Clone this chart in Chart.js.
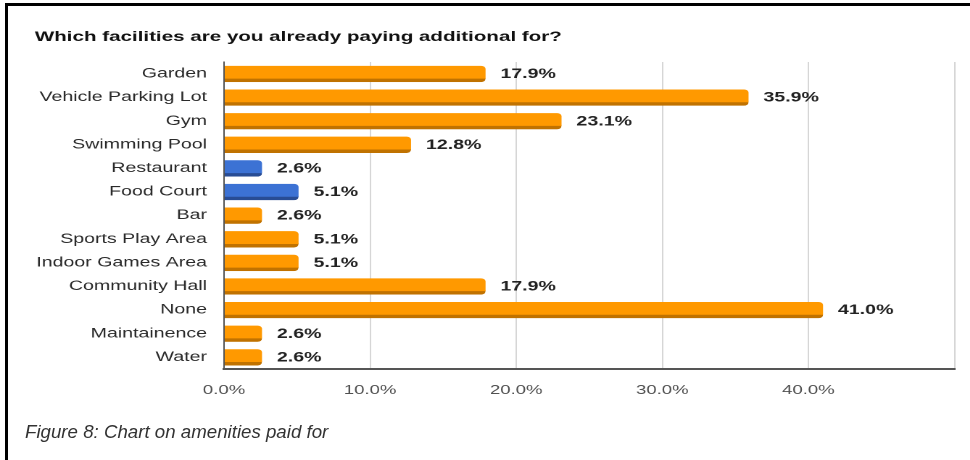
<!DOCTYPE html>
<html>
<head>
<meta charset="utf-8">
<script src="https://cdn.jsdelivr.net/npm/chart.js@4.4.1/dist/chart.umd.min.js"></script>
<style>
  html, body { margin: 0; padding: 0; background: #fff; }
  body { width: 970px; height: 460px; position: relative; overflow: hidden; }
  #frame {
    position: absolute; left: 5px; top: 3px; right: -10px; bottom: -10px;
    border-top: 3px solid #000; border-left: 3px solid #000;
  }
  /* the chart is laid out narrow and widened horizontally */
  #wrap {
    position: absolute; left: 0; top: 0; width: 669px; height: 460px;
    transform: scaleX(1.45); transform-origin: 0 0;
  }
  #caption {
    position: absolute; left: 25px; top: 421px; line-height: 24px;
    font: italic 18.7px "Liberation Sans", Arial, sans-serif; color: #333;
    white-space: nowrap;
  }
</style>
</head>
<body>
<div id="frame"></div>
<div id="wrap"><canvas id="c" width="669" height="460"></canvas></div>
<div id="caption">Figure 8: Chart on amenities paid for</div>
<script>
// Facilities and the share of respondents already paying extra for each (%)
const categories = [
  'Garden', 'Vehicle Parking Lot', 'Gym', 'Swimming Pool', 'Restaurant',
  'Food Court', 'Bar', 'Sports Play Area', 'Indoor Games Area',
  'Community Hall', 'None', 'Maintainence', 'Water'
];
const shares = [17.9, 35.9, 23.1, 12.8, 2.6, 5.1, 2.6, 5.1, 5.1, 17.9, 41.0, 2.6, 2.6];
const tickLabels = ['0.0%', '10.0%', '20.0%', '30.0%', '40.0%', ''];
const blueBars = ['Restaurant', 'Food Court'];

const FONT = '"Liberation Sans", Arial, sans-serif';
const ORANGE = '#ff9900', ORANGE_DARK = '#c07200';
const BLUE = '#3c72d4', BLUE_DARK = '#284c94';

const isBlue = ctx => blueBars.includes(categories[ctx.dataIndex]);

// value labels written just past the end of each bar
const valueLabels = {
  id: 'valueLabels',
  afterDatasetsDraw(chart) {
    const ctx = chart.ctx;
    const meta = chart.getDatasetMeta(0);
    ctx.save();
    ctx.font = 'bold 13.5px ' + FONT;
    ctx.fillStyle = '#222';
    ctx.textAlign = 'left';
    ctx.textBaseline = 'middle';
    meta.data.forEach((bar, i) => {
      ctx.fillText(shares[i].toFixed(1) + '%', bar.x + 10.3, bar.y + 0.5);
    });
    ctx.restore();
  }
};

new Chart(document.getElementById('c'), {
  type: 'bar',
  data: {
    labels: categories,
    datasets: [{
      data: shares,
      backgroundColor: ctx => isBlue(ctx) ? BLUE : ORANGE,
      borderColor: ctx => isBlue(ctx) ? BLUE_DARK : ORANGE_DARK,
      borderWidth: { top: 0, right: 0, bottom: 3.5, left: 0 },
      borderRadius: { topRight: 3, bottomRight: 3 },
      barThickness: 16
    }]
  },
  options: {
    indexAxis: 'y',
    responsive: false,
    animation: false,
    devicePixelRatio: 2,
    layout: { padding: { left: 24, right: 10.7, top: 0, bottom: 0 } },
    plugins: {
      legend: { display: false },
      tooltip: { enabled: false },
      title: {
        display: true,
        text: 'Which facilities are you already paying additional for?',
        align: 'start',
        color: '#111',
        font: { family: FONT, size: 14.2, weight: 'bold' },
        padding: { top: 28.5, bottom: 16.5 }
      }
    },
    scales: {
      x: {
        min: 0,
        max: 50,
        afterBuildTicks(scale) {
          scale.ticks = tickLabels.map((_, i) => ({ value: i * 10 }));
        },
        afterFit(scale) { scale.height = 91; },
        grid: {
          color: '#d6d6d6', lineWidth: 1,
          drawTicks: true, tickLength: 13, tickColor: 'rgba(0,0,0,0)'
        },
        border: { display: true, color: '#555', width: 2 },
        ticks: {
          padding: 1,
          color: '#505050',
          font: { family: FONT, size: 12.8 },
          maxRotation: 0,
          autoSkip: false,
          callback: (v, i) => tickLabels[i]
        }
      },
      y: {
        afterFit(scale) { scale.width = 130.5; },
        grid: { display: false, drawTicks: false },
        border: { display: true, color: '#555', width: 1 },
        ticks: {
          padding: 11.7,
          color: '#2a2a2a',
          autoSkip: false,
          font: { family: FONT, size: 13.5 }
        }
      }
    }
  },
  plugins: [valueLabels]
});
</script>
</body>
</html>
